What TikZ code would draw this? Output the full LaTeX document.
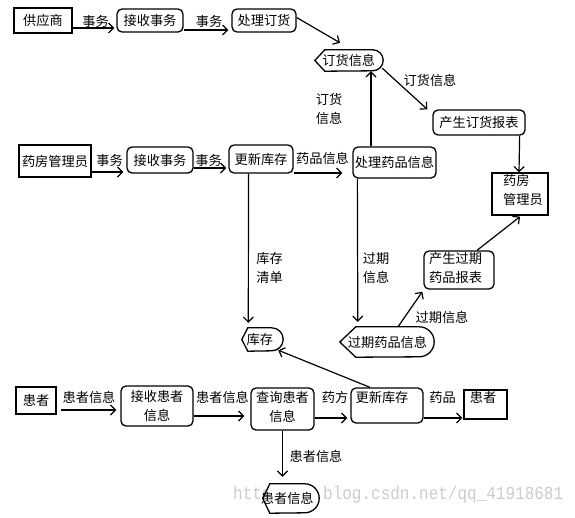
\documentclass[tikz,border=0pt]{standalone}
\usepackage{fontspec}
\newfontfamily\cjk{Noto Sans CJK SC}
\newfontfamily\wmfont{Liberation Mono}
\usetikzlibrary{arrows.meta}
\tikzset{
 base/.style={font=\cjk\fontsize{13.2}{19}\selectfont, inner sep=0pt},
 ext/.style={base, draw, line width=1.3pt},
 proc/.style={base, draw, line width=1.3pt, rounded corners=5pt},
 txt/.style={base},
 flow/.style={line width=1.2pt, -{Straight Barb[length=5pt,width=10pt,line width=1.2pt]}},
 storeline/.style={line width=1.3pt, fill=white},
}
\newcommand\storeshape[4]{%
 \draw[storeline] ([xshift=-#2]#1.west) -- (#1.north west) -- (#1.north east)
   arc[start angle=90,end angle=-90,radius=#3] -- (#1.south west) -- cycle;
 \node[txt] (#1t) at (#1.center) {\makebox[0pt]{#4}};}
\begin{document}
\begin{tikzpicture}[x=1pt,y=-1pt]
\useasboundingbox (0,0) rectangle (575,517);
% watermark
\node[font=\wmfont\fontsize{16}{16}\selectfont, text=gray!40, anchor=west, inner sep=0pt, yscale=1.15] (wm) at (233,495) {\makebox[90pt][l]{http://}blog.csdn.net/qq\_41918681};
% top row
\node[ext, minimum width=58pt, minimum height=25pt] (gys) at (43,20.5) {供应商};
\node[proc, minimum width=66pt, minimum height=23pt] (js1) at (150,20.5) {接收事务};
\node[proc, minimum width=64pt, minimum height=23pt] (clh) at (264,20.5) {处理订货};
\node[base, minimum width=47.5pt, minimum height=21pt] (dh) at (348.75,60.5) {};
\storeshape{dh}{10pt}{10.5pt}{订货信息}
\node[proc, minimum width=92pt, minimum height=25pt] (cdbb) at (479,122.5) {产生订货报表};
\node[ext, minimum width=56pt, minimum height=42pt] (yfR) at (520,194) {};
\node[txt, anchor=west, align=left] (yfRt) at (503,190) {药房\\管理员};
% middle row
\node[ext, minimum width=72pt, minimum height=32pt] (yfL) at (55,161) {药房管理员};
\node[proc, minimum width=66pt, minimum height=26pt] (js2) at (160,160) {接收事务};
\node[proc, minimum width=64pt, minimum height=28pt] (gx1) at (261,159) {更新库存};
\node[proc, minimum width=83pt, minimum height=31pt] (clyp) at (394.5,162.5) {处理药品信息};
\node[base, minimum width=23.5pt, minimum height=23pt] (kc) at (259.75,339.5) {};
\storeshape{kc}{6pt}{11.5pt}{库存}
\node[base, minimum width=63pt, minimum height=30pt] (gq) at (387.5,342) {};
\storeshape{gq}{16pt}{15pt}{过期药品信息}
\node[proc, minimum width=70pt, minimum height=38pt] (cgbb) at (459,270) {};
\node[txt, anchor=west, align=left] (cgbbt) at (429,268) {产生过期\\药品报表};
% bottom row
\node[ext, minimum width=40pt, minimum height=27pt] (hzL) at (36,400.5) {患者};
\node[proc, minimum width=72pt, minimum height=40pt, align=center] (jshz) at (157,406) {接收患者\\信息};
\node[proc, minimum width=63pt, minimum height=42pt] (cxhz) at (282.5,409) {};
\node[txt, align=center] (cxhzt) at (282.5,406.5) {查询患者\\信息};
\node[proc, minimum width=72pt, minimum height=35pt] (gx2) at (387,405.5) {};
\node[txt] (gx2t) at (382,397) {更新库存};
\node[ext, minimum width=43pt, minimum height=29pt] (hzR) at (485.5,404.5) {};
\node[txt] (hzRt) at (483,397) {患者};
\node[base, minimum width=34.5pt, minimum height=29pt] (hzxx) at (287.25,498.5) {};
\storeshape{hzxx}{7pt}{14.5pt}{患者信息}
% connectors top
\draw[flow] ([yshift=-7.5pt]gys.east) -- ([xshift=-2pt,yshift=-7.5pt]js1.west);
\node[txt] (l1) at (95.5,21) {事务};
\draw[flow] ([yshift=-9.5pt]js1.east) -- ([xshift=-3pt,yshift=-9.5pt]clh.west);
\node[txt] (l2) at (209,21) {事务};
\draw[flow] ([yshift=3pt]clh.east) -- ([xshift=-8.75pt,yshift=7pt]dh.north);
\draw[flow] ([xshift=-23.5pt]clyp.north) -- ([xshift=22.25pt]dh.south);
\node[txt, align=left] (l3) at (329,109) {订货\\信息};
\draw[flow] ([xshift=9.5pt,yshift=3pt]dh.south east) -- ([xshift=-5pt]cdbb.north west);
\node[txt] (l4) at (430,80) {订货信息};
\draw[flow] ([xshift=-6pt]cdbb.south east) -- ([xshift=-1pt]yfR.north);
% connectors middle
\draw[flow] ([yshift=-11pt]yfL.east) -- ([xshift=-3pt,yshift=-12pt]js2.west);
\node[txt] (l5) at (109.5,160) {事务};
\draw[flow] ([yshift=-8pt]js2.east) -- ([xshift=-2pt,yshift=-9pt]gx1.west);
\node[txt] (l6) at (208.5,160) {事务};
\draw[flow] ([yshift=-14pt]gx1.east) -- ([xshift=-10pt,yshift=-10.5pt]clyp.west);
\node[txt] (l7) at (322.5,158) {药品信息};
\draw[flow] ([xshift=-12.5pt]gx1.south) -- ([xshift=0.5pt,yshift=5pt]kc.north west);
\node[txt, align=left] (l8) at (269.5,268) {库存\\清单};
\draw[flow] ([xshift=5pt]clyp.south west) -- ([xshift=2pt,yshift=5pt]gq.north west);
\node[txt, align=left] (l9) at (376,268) {过期\\信息};
\draw[flow] ([xshift=10.5pt]gq.north) -- ([xshift=-1pt,yshift=-2pt]cgbb.south west);
\node[txt] (l10) at (442,317) {过期信息};
\draw[flow] ([xshift=18pt]cgbb.north) -- ([yshift=-1pt]yfR.south);
% connectors bottom
\draw[flow] ([xshift=4pt,yshift=-9.5pt]hzL.east) -- ([xshift=-4pt,yshift=-4pt]jshz.west);
\node[txt] (l11) at (89,397) {患者信息};
\draw[flow] ([yshift=-10pt]jshz.east) -- ([xshift=-6pt,yshift=-7pt]cxhz.west);
\node[txt] (l12) at (222.5,397) {患者信息};
\draw[flow] ([yshift=-9pt]cxhz.east) -- ([xshift=-3pt,yshift=-12.5pt]gx2.west);
\node[txt] (l13) at (335,397) {药方};
\draw[flow] ([yshift=-12.5pt]gx2.east) -- ([xshift=-1pt,yshift=-13.5pt]hzR.west);
\node[txt] (l14) at (442.5,397) {药品};
\draw[flow] ([xshift=-17pt]gx2.north) -- ([xshift=6.5pt,yshift=1pt]kc.south east);
\draw[flow] (cxhz.south) -- ([xshift=-4.75pt,yshift=7pt]hzxx.north);
\node[txt] (l15) at (316,456) {患者信息};
\end{tikzpicture}
\end{document}
